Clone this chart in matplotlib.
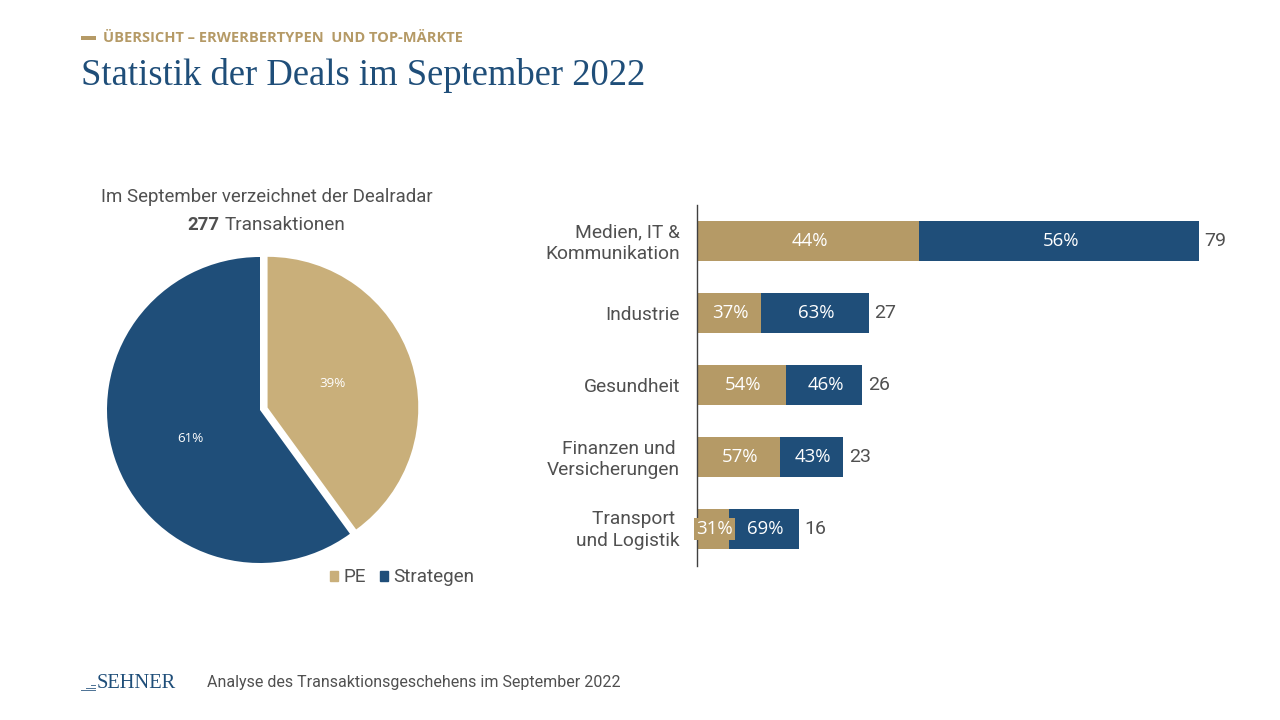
import matplotlib
matplotlib.use("Agg")
import matplotlib.pyplot as plt
from matplotlib.patches import Rectangle
from matplotlib.lines import Line2D
from matplotlib.transforms import ScaledTranslation

W, H = 1280, 720
TAN = "#B59A66"
PIE_TAN = "#C9AF7A"
BLUE = "#1F4E79"
GREY = "#505050"

pie_labels = ["PE", "Strategen"]
pie_values = [40, 60]          # wedge sizes
pie_percent_labels = ["39%", "61%"]
categories = ["Medien, IT &\nKommunikation", "Industrie", "Gesundheit",
              "Finanzen und \nVersicherungen", "Transport \nund Logistik"]
totals = [79, 27, 26, 23, 16]
pe_counts = [35, 10, 14, 13, 5]
strategen_counts = [44, 17, 12, 10, 11]
pe_share = [44, 37, 54, 57, 31]
strategen_share = [56, 63, 46, 43, 69]

fig = plt.figure(figsize=(12.8, 7.2), dpi=100, facecolor="white")

def T(x, y, s, **kw):
    kw.setdefault("va", "center")
    return fig.text(x / W, 1 - y / H, s, **kw)

def axes_px(x0, y0, x1, y1):
    return fig.add_axes([x0 / W, 1 - y1 / H, (x1 - x0) / W, (y1 - y0) / H])

# Header
fig.add_artist(Rectangle((81 / W, 1 - 40 / H), 15 / W, 4 / H, transform=fig.transFigure, color=TAN, lw=0))
T(103, 38, "ÜBERSICHT – ERWERBERTYPEN  UND TOP-MÄRKTE", family="Open Sans", weight="bold", fontsize=10.5, color=TAN)
T(81, 75.5, "Statistik der Deals im September 2022", family="Liberation Serif", fontsize=26.4, color=BLUE)

# Pie
cx, cy, half = 260, 410, 200
ax = axes_px(cx - half, cy - half, cx + half, cy + half)
r_scale = half / 153
wedges, _ = ax.pie(pie_values, colors=[PIE_TAN, BLUE], startangle=90, counterclock=False,
                   explode=[0.052, 0], radius=1)
wedges[0].set_radius(0.985)
ax.set_xlim(-r_scale, r_scale)
ax.set_ylim(-r_scale, r_scale)
ax.set_aspect("equal")
ax.axis("off")
T(333, 383.5, pie_percent_labels[0], family="Open Sans", fontsize=9.6, color="white", ha="center")
T(190, 438.5, pie_percent_labels[1], family="Open Sans", fontsize=9.6, color="white", ha="center")

T(267, 197, "Im September verzeichnet der Dealradar", family="Roboto", fontsize=13.4, color=GREY, ha="center")
T(187, 225, "277", family="Roboto", weight="bold", fontsize=13.4, color=GREY, ha="left")
T(224.5, 225, "Transaktionen", family="Roboto", fontsize=13.7, color=GREY, ha="left")

leg = fig.legend(handles=[Rectangle((0, 0), 1, 1, color=PIE_TAN), Rectangle((0, 0), 1, 1, color=BLUE)],
                 labels=pie_labels, loc="center left", bbox_to_anchor=(330 / W, 1 - 577.5 / H),
                 frameon=False, ncol=2, prop={"family": "Roboto", "size": 13.6},
                 borderaxespad=0, borderpad=0,
                 handlelength=0.42, handleheight=0.42, handletextpad=0.27, columnspacing=0.78)
for t in leg.get_texts():
    t.set_color(GREY)

# Bars
x0, x1, y0, y1 = 697, 1279, 205, 566
bx = axes_px(x0, y0, x1, y1)
ppu = 502 / 79
bx.set_xlim(0, (x1 - x0) / ppu)
bx.set_ylim(4 + (y1 - 529) / 72, -(241 - y0) / 72)
ypos = list(range(len(categories)))
bx.barh(ypos, pe_counts, height=40 / 72, color=TAN)
bx.barh(ypos, strategen_counts, left=pe_counts, height=40 / 72, color=BLUE)
for y, p, s, pw, sw, tot in zip(ypos, pe_share, strategen_share, pe_counts, strategen_counts, totals):
    bbox = dict(facecolor=TAN, edgecolor="none", pad=1.8) if p == 31 else None
    bx.text(pw / 2 + 0.25, y, f"{p}%", ha="center", va="center", color="white",
            family="Open Sans", fontsize=13.4, bbox=bbox, clip_on=False, zorder=5)
    bx.text(pw + sw / 2 + 0.25, y, f"{s}%", ha="center", va="center", color="white",
            family="Open Sans", fontsize=13.4)
    bx.text(tot + 0.9, y, str(tot), ha="left", va="center", color=GREY,
            family="Roboto", fontsize=14)
for s in ("top", "right", "bottom"):
    bx.spines[s].set_visible(False)
bx.spines["left"].set_color("#404040")
bx.spines["left"].set_linewidth(1.0)
bx.set_yticks(ypos)
bx.set_yticklabels(categories, family="Roboto", fontsize=13.8, color=GREY, ha="right", linespacing=1.27)
bx.tick_params(axis="y", length=0, pad=12.3)
bx.set_xticks([])
bx.patch.set_alpha(0)
label_shift_px = [1.5, 0, 0, 1.5, 2.5]
for lab, dy in zip(bx.get_yticklabels(), label_shift_px):
    lab.set_transform(lab.get_transform() + ScaledTranslation(0, dy / 100, fig.dpi_scale_trans))

# Footer
for yy, xa in [(684.5, 91), (687.5, 86), (690, 81)]:
    fig.add_artist(Line2D([xa / W, 95 / W], [1 - yy / H] * 2, color=BLUE, lw=0.7, alpha=0.8))
T(97, 683, "SEHNER", family="Liberation Serif", fontsize=14.8, color=BLUE)
T(207, 682.5, "Analyse des Transaktionsgeschehens im September 2022", family="Roboto", fontsize=11.5, color=GREY)

fig.savefig("out.png", dpi=100, facecolor="white")
